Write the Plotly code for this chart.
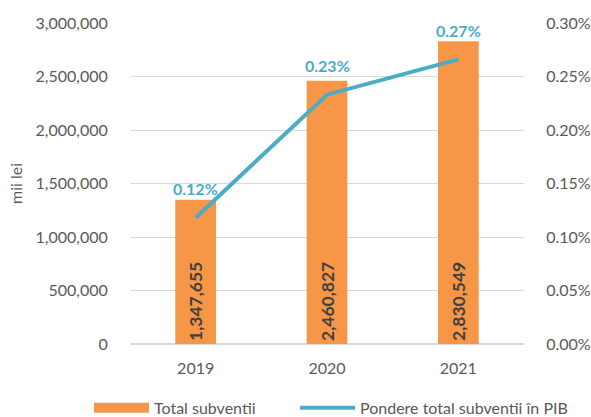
import plotly.graph_objects as go

years = ["2019", "2020", "2021"]
total_subventii = [1347655, 2460827, 2830549]
pondere_pib = [0.118, 0.233, 0.266]  # percent of GDP

bar_name = "Total subventii"
line_name = "Pondere total subventii în PIB"

orange = "#F79646"
teal = "#4BACC6"
gray_txt = "#595959"
font_family = "Lato, 'Open Sans', sans-serif"

fig = go.Figure()

fig.add_trace(go.Bar(
    x=years, y=total_subventii, name=bar_name,
    marker=dict(color=orange, line=dict(width=0)),
    width=0.31,
    text=[f"<b>{v:,}</b>" for v in total_subventii],
    textposition="inside", insidetextanchor="start", textangle=-90,
    textfont=dict(family=font_family, size=17.5, color="#404040"),
    showlegend=False,
))

# wide orange swatch for the legend entry of the bars
fig.add_trace(go.Scatter(
    x=[years[0]], y=[None], mode="lines", name=bar_name,
    line=dict(color=orange, width=12), hoverinfo="skip", legend="legend",
))

fig.add_trace(go.Scatter(
    x=years, y=pondere_pib, name=line_name, yaxis="y2",
    mode="lines", line=dict(color=teal, width=4), legend="legend2",
))

for i, v in enumerate(pondere_pib):
    fig.add_annotation(
        x=i, y=v, xref="x", yref="y2", text=f"<b>{v:.2f}%</b>",
        showarrow=False, yshift=29,
        font=dict(family=font_family, size=16, color=teal),
    )

legend_common = dict(orientation="h", xref="container", xanchor="left",
                     yref="container", y=0.022, yanchor="middle",
                     font=dict(size=16, color=gray_txt), itemwidth=55,
                     bgcolor="rgba(0,0,0,0)")

fig.update_layout(
    width=591, height=417,
    margin=dict(l=130, r=67, t=23, b=73, autoexpand=False),
    paper_bgcolor="white", plot_bgcolor="white",
    font=dict(family=font_family, size=16, color=gray_txt),
    xaxis=dict(type="category", categoryorder="array", categoryarray=years,
               range=[-0.5, 2.5], showgrid=False, showline=False,
               ticks="outside", ticklen=10, tickcolor="rgba(0,0,0,0)",
               tickfont=dict(size=16, color=gray_txt)),
    yaxis=dict(range=[0, 3000000], dtick=500000, tickformat=",d",
               showgrid=True, gridcolor="#D9D9D9", gridwidth=1,
               zeroline=True, zerolinecolor="#D9D9D9", showline=False,
               ticks="outside", ticklen=18, tickcolor="rgba(0,0,0,0)",
               title=dict(text="mii lei", font=dict(size=16, color=gray_txt), standoff=8),
               tickfont=dict(size=16, color=gray_txt)),
    yaxis2=dict(range=[0, 0.3], dtick=0.05, overlaying="y", side="right",
                tickformat=".2f", ticksuffix="%", showgrid=False, zeroline=False,
                showline=False, ticks="outside", ticklen=18, tickcolor="rgba(0,0,0,0)",
                tickfont=dict(size=16, color=gray_txt)),
    legend=dict(legend_common, x=89 / 591),
    legend2=dict(legend_common, x=295 / 591),
)

fig.write_html("out.html")
